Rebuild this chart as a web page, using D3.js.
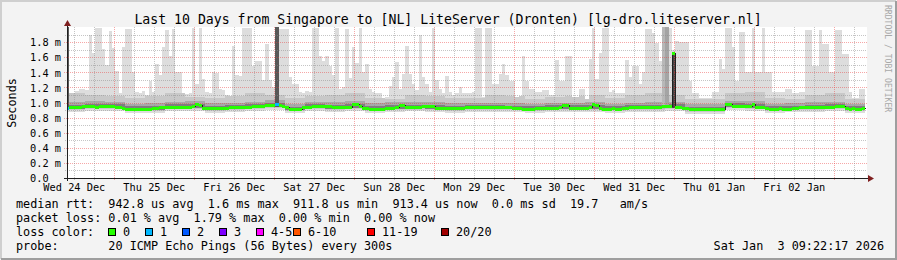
<!DOCTYPE html>
<html>
<head>
<meta charset="utf-8">
<script src="https://cdn.jsdelivr.net/npm/d3@7"></script>
<style>
html, body { margin: 0; padding: 0; background: #f3f3f3; }
svg { display: block; font-family: "DejaVu Sans Mono", monospace; }
</style>
</head>
<body>
<div id="chart"></div>
<script>
// hourly median rtt (ms), one value per hour from Dec 24 09:48
var medianMs = [
  0.931,0.935,0.938,0.942,0.944,0.952,0.955,0.953,0.950,0.936,
  0.955,0.956,0.958,0.955,0.953,0.945,0.934,0.925,0.918,0.917,
  0.916,0.918,0.920,0.918,0.917,0.919,0.921,0.930,0.942,0.944,
  0.945,0.944,0.946,0.944,0.943,0.945,0.947,0.946,0.950,0.976,
  0.968,0.925,0.923,0.922,0.924,0.923,0.921,0.925,0.930,0.935,
  0.942,0.944,0.945,0.946,0.944,0.947,0.950,0.948,0.952,0.960,
  0.966,0.970,0.968,0.975,0.962,0.958,0.936,0.915,0.910,0.910,
  0.912,0.936,0.937,0.936,0.953,0.952,0.954,0.953,0.955,0.952,
  0.938,0.936,0.935,0.937,0.936,0.940,0.975,0.974,0.960,0.928,
  0.925,0.918,0.915,0.914,0.916,0.920,0.925,0.927,0.928,0.935,
  0.967,0.962,0.940,0.941,0.939,0.940,0.945,0.953,0.952,0.954,
  0.953,0.930,0.927,0.926,0.928,0.927,0.925,0.927,0.929,0.930,
  0.936,0.937,0.935,0.936,0.938,0.936,0.935,0.937,0.936,0.934,
  0.936,0.938,0.935,0.936,0.930,0.928,0.925,0.912,0.910,0.912,
  0.913,0.925,0.927,0.928,0.926,0.927,0.928,0.930,0.940,0.965,
  0.963,0.932,0.930,0.929,0.931,0.930,0.932,0.935,0.975,0.972,
  0.922,0.920,0.918,0.920,0.921,0.919,0.920,0.922,0.925,0.938,
  0.940,0.941,0.939,0.940,0.942,0.940,0.941,0.943,0.945,0.950,
  0.955,0.953,1.650,0.942,0.938,0.925,0.922,0.912,0.910,0.911,
  0.910,0.909,0.910,0.911,0.910,0.912,0.913,0.915,0.980,0.978,
  0.953,0.952,0.954,0.953,0.951,0.955,0.980,0.945,0.940,0.938,
  0.922,0.920,0.919,0.920,0.921,0.920,0.918,0.920,0.922,0.925,
  0.938,0.940,0.941,0.940,0.942,0.940,0.941,0.942,0.940,0.941,
  0.943,0.948,0.953,0.952,0.925,0.920,0.921,0.919,0.920,0.922
];

// hourly max rtt (ms) - top of the light smoke
var maxMs = [
  2.00,1.12,1.13,1.15,1.18,1.18,1.17,1.89,1.65,1.99,1.99,1.71,1.50,1.95,1.72,1.42,1.12,1.73,1.98,1.98,
  1.40,1.14,1.13,1.15,1.10,1.29,1.14,1.51,1.36,1.74,1.96,1.62,1.97,1.40,1.40,1.12,1.11,1.13,1.99,1.25,
  1.99,1.31,1.14,1.13,1.40,1.39,1.18,1.17,1.10,1.09,1.75,1.36,1.35,1.99,1.99,1.99,1.49,1.55,1.55,1.30,
  1.77,1.30,1.20,2.00,1.98,1.98,1.98,1.34,1.25,1.24,1.14,1.13,1.15,1.14,1.99,1.99,1.62,1.55,1.62,1.49,
  1.36,1.99,1.18,1.20,1.97,1.33,1.73,1.52,1.99,1.40,1.51,1.18,1.14,1.12,1.12,1.06,1.07,1.22,1.34,1.53,
  1.18,1.38,1.75,1.38,1.25,1.16,1.89,1.34,1.24,1.14,1.99,1.30,1.18,1.12,1.35,1.14,1.10,1.12,1.20,1.12,
  1.12,1.12,1.14,1.99,1.99,1.07,1.99,1.99,1.25,1.25,1.38,1.51,1.36,1.29,1.29,1.07,1.08,1.62,1.29,1.18,
  1.18,1.14,1.14,1.16,1.16,1.10,1.10,1.56,1.29,1.29,1.62,1.62,1.07,1.07,1.18,1.18,1.05,1.58,1.99,1.31,
  1.65,1.99,1.99,1.14,1.16,1.12,1.12,1.12,1.56,1.34,1.49,1.49,1.25,1.40,1.97,1.97,1.92,1.79,1.55,1.99,
  1.99,1.99,1.70,1.82,1.80,1.80,1.80,1.29,1.12,1.12,1.06,1.06,1.06,1.06,1.14,1.14,1.58,1.45,1.99,1.99,
  1.73,1.29,1.94,1.94,1.40,1.40,1.99,1.40,1.40,1.99,1.40,1.40,1.14,1.14,1.14,1.14,1.18,1.18,1.12,1.12,
  1.14,1.14,1.96,1.96,1.49,1.49,1.96,1.78,1.78,1.40,1.40,1.96,1.96,1.64,1.64,1.14,1.06,1.06,1.18,1.18
];

// smoke percentiles (ms), one value per 6 hours
var p90Ms = [1.12,1.10,1.08,1.06,1.09,1.12,1.07,1.06,1.08,1.13, 1.10,1.06,1.08,1.10,1.12,1.06,1.05,1.10,1.08,1.06,
             1.06,1.10,1.08,1.05,1.07,1.09,1.10,1.06,1.10,1.12, 1.10,1.05,1.04,1.12,1.14,1.06,1.05,1.10,1.12,1.05];
var p80Ms = [1.005,1.02,1.01,0.985,0.99,1.01,1.015,0.99,1.0,1.01, 1.03,0.98,1.013,1.005,1.015,0.99,1.005,1.007,1.005,0.992,
             1.0,1.0,0.995,0.983,0.997,1.0,1.005,0.985,1.0,1.005, 1.01,0.977,0.975,1.025,1.015,0.985,0.995,1.005,1.01,0.985];
var p65Ms = [0.97,0.985,0.975,0.95,0.955,0.975,0.98,0.955,0.965,0.975, 0.995,0.945,0.978,0.97,0.98,0.955,0.97,0.972,0.97,0.957,
             0.966,0.966,0.96,0.948,0.962,0.965,0.97,0.95,0.965,0.97, 0.975,0.942,0.94,0.99,0.98,0.95,0.96,0.97,0.975,0.95];
var p35Ms = [0.92,0.93,0.925,0.90,0.905,0.925,0.93,0.905,0.915,0.925, 0.945,0.898,0.928,0.92,0.93,0.905,0.92,0.922,0.92,0.908,
             0.916,0.916,0.91,0.90,0.912,0.915,0.92,0.90,0.915,0.92, 0.925,0.895,0.893,0.94,0.93,0.90,0.91,0.92,0.925,0.90];
var p20Ms = [0.905,0.915,0.91,0.885,0.89,0.91,0.915,0.89,0.90,0.91, 0.93,0.882,0.913,0.905,0.915,0.89,0.905,0.907,0.905,0.893,
             0.90,0.90,0.895,0.884,0.897,0.90,0.905,0.886,0.90,0.905, 0.91,0.88,0.878,0.925,0.915,0.886,0.895,0.905,0.91,0.886];
var minMs = [0.88,0.892,0.885,0.86,0.865,0.884,0.89,0.863,0.875,0.884, 0.905,0.855,0.888,0.88,0.89,0.865,0.88,0.882,0.88,0.867,
             0.876,0.876,0.87,0.858,0.872,0.875,0.88,0.86,0.875,0.88, 0.885,0.852,0.85,0.90,0.89,0.86,0.87,0.88,0.885,0.86];

// hours where most of the pings were slow (dense smoke up to a top value)
var heavyHours = [0, 63, 179, 180, 182];
var heavyTops  = [2.0, 2.0, 2.0, 2.0, 1.65];
var heavyDepth = [7, 7, 2, 3, 8];

// hours with lost pings (count out of 20)
var lossHours  = [0, 63];
var lossCounts = [1, 1];

var yTickValues = [0, 0.2, 0.4, 0.6, 0.8, 1.0, 1.2, 1.4, 1.6, 1.8];
var yTickLabels = ["0.0", "0.2 m", "0.4 m", "0.6 m", "0.8 m", "1.0 m", "1.2 m", "1.4 m", "1.6 m", "1.8 m"];

var lossLabels = ["0", "1", "2", "3", "4-5", "6-10", "11-19", "20/20"];
var lossLimits = [0, 1, 2, 3, 5, 10, 19, 20];
var lossColors = ["#26ff00", "#00b8ff", "#0059ff", "#7e00ff", "#ff00ff", "#ff5500", "#ff0000", "#a10000"];

var titleText = "Last 10 Days from Singapore to [NL] LiteServer (Dronten) [lg-dro.liteserver.nl]";
var statLines = [
  "median rtt:  942.8 us avg  1.6 ms max  911.8 us min  913.4 us now  0.0 ms sd  19.7   am/s",
  "packet loss: 0.01 % avg  1.79 % max  0.00 % min  0.00 % now",
  "loss color:",
  "probe:       20 ICMP Echo Pings (56 Bytes) every 300s"
];
var stampText = "Sat Jan  3 09:22:17 2026";

// layout
var W = 897, H = 260;
var m = {left: 67, right: 867, top: 27, bottom: 178};
var HOUR = 3600e3;
var T0 = Date.UTC(2025, 11, 24, 9, 48);
var T1 = T0 + medianMs.length * HOUR;

var x = d3.scaleUtc().domain([T0, T1]).range([m.left, m.right]);
var y = d3.scaleLinear().domain([0, 2.0]).range([m.bottom, m.top]);

var svg = d3.select("#chart").append("svg")
            .attr("width", W).attr("height", H);

// background + 3d frame
svg.append("rect").attr("width", W).attr("height", H).attr("fill", "#f3f3f3");
svg.append("path").attr("d", "M1,259 V1 H896").attr("fill", "none")
   .attr("stroke", "#cfcfcf").attr("stroke-width", 2);
svg.append("path").attr("d", "M1,259 H896 V1").attr("fill", "none")
   .attr("stroke", "#9e9e9e").attr("stroke-width", 2);

svg.append("rect").attr("x", m.left).attr("y", m.top)
   .attr("width", m.right - m.left).attr("height", m.bottom - m.top)
   .attr("fill", "#ffffff");

svg.append("clipPath").attr("id", "plotclip").append("rect")
   .attr("x", m.left).attr("y", m.top - 1)
   .attr("width", m.right - m.left).attr("height", m.bottom - m.top + 1);

var plot = svg.append("g").attr("clip-path", "url(#plotclip)")
              .attr("shape-rendering", "crispEdges");

var hours = d3.range(medianMs.length);
function blk(arr, k) { return arr[Math.floor(k / 6)]; }
function xl(k) { return Math.round(x(T0 + (k - 0.5) * HOUR)); }
function xr(k) { return Math.round(x(T0 + (k + 0.5) * HOUR)); }

// stepped points, two per hour, snapped to pixels
function stepPoints(lo, hi) {
  var pts = [];
  hours.forEach(function(k) {
    pts.push({x: xl(k), lo: lo(k), hi: hi(k)});
    pts.push({x: xr(k), lo: lo(k), hi: hi(k)});
  });
  return pts;
}

var area = d3.area().x(d => d.x)
             .y0(d => Math.round(y(d.lo))).y1(d => Math.round(y(d.hi)));

var layers = [
  {lo: k => blk(minMs, k), hi: k => maxMs[k], color: "#dddddd"},
  {lo: k => blk(p20Ms, k), hi: k => Math.min(blk(p90Ms, k), maxMs[k]), color: "#c8c8c8"},
  {lo: k => blk(p35Ms, k), hi: k => blk(p80Ms, k), color: "#a8a8a8"},
  {lo: k => blk(p35Ms, k), hi: k => blk(p65Ms, k), color: "#7e7e7e"}
];

layers.forEach(function(l) {
  plot.append("path").attr("d", area(stepPoints(l.lo, l.hi))).attr("fill", l.color);
});

// dense smoke columns
plot.selectAll("rect.heavy")
    .data(heavyHours)
    .enter().append("rect")
    .attr("class", "heavy")
    .attr("x", k => xl(k))
    .attr("width", k => xr(k) - xl(k))
    .attr("y", (k, i) => Math.round(y(heavyTops[i])))
    .attr("height", (k, i) => Math.round(y(blk(p35Ms, k))) - Math.round(y(heavyTops[i])))
    .attr("fill", function(k, i) {
      var g = Math.round(221 - heavyDepth[i] * 19);
      return d3.rgb(g, g, g);
    });

// grid
var gridMinor = "rgba(140,140,140,0.5)";
var gridMajor = "rgba(235,60,60,0.45)";
var g = svg.append("g").attr("shape-rendering", "crispEdges");

var yGrid = d3.range(1, 20).map(i => i / 10);
g.selectAll("line.hg").data(yGrid).enter().append("line")
 .attr("x1", d => (Math.round(d * 10) % 2 === 0) ? m.left - 3 : m.left - 2)
 .attr("x2", m.right)
 .attr("y1", d => Math.round(y(d)) + 0.5).attr("y2", d => Math.round(y(d)) + 0.5)
 .attr("stroke", d => (Math.round(d * 10) % 2 === 0) ? gridMajor : gridMinor)
 .attr("stroke-dasharray", "1,1");

var sixHours = d3.utcHour.every(6).range(T0, T1);
g.selectAll("line.vg").data(sixHours).enter().append("line")
 .attr("x1", d => Math.round(x(d)) + 0.5).attr("x2", d => Math.round(x(d)) + 0.5)
 .attr("y1", m.top)
 .attr("y2", d => d.getUTCHours() === 0 ? m.bottom + 3 : m.bottom + 2)
 .attr("stroke", d => d.getUTCHours() === 0 ? gridMajor : gridMinor)
 .attr("stroke-dasharray", "1,1");

// median line and loss colour band
var med = svg.append("g").attr("clip-path", "url(#plotclip)")
             .attr("shape-rendering", "crispEdges");
var medPts = stepPoints(k => medianMs[k], k => medianMs[k]);
med.append("path")
   .attr("d", d3.line().x(d => d.x + 0.5).y(d => Math.round(y(d.hi)) + 0.5)(medPts))
   .attr("fill", "none").attr("stroke", "#202020").attr("stroke-width", 1);

function lossColor(k) {
  var i = lossHours.indexOf(k);
  var c = i < 0 ? 0 : lossCounts[i];
  for (var j = 0; j < lossLimits.length; j++) {
    if (c <= lossLimits[j]) return lossColors[j];
  }
  return lossColors[lossColors.length - 1];
}

med.selectAll("rect").data(hours).enter().append("rect")
   .attr("x", k => xl(k))
   .attr("width", k => xr(k) - xl(k))
   .attr("y", k => Math.round(y(medianMs[k])) - 1)
   .attr("height", 3)
   .attr("fill", k => lossColor(k));

// axes
svg.append("line").attr("x1", m.left - 3).attr("x2", m.right + 2)
   .attr("y1", m.bottom + 0.5).attr("y2", m.bottom + 0.5)
   .attr("stroke", "#1f1f1f");
svg.append("line").attr("x1", m.left + 0.5).attr("x2", m.left + 0.5)
   .attr("y1", m.bottom + 3).attr("y2", m.top - 2)
   .attr("stroke", "#1f1f1f");
svg.append("path").attr("d", "M868,175 L874,178.5 L868,182 Z").attr("fill", "#7f1f1f");
svg.append("path").attr("d", "M64,26 L67.5,20 L71,26 Z").attr("fill", "#7f1f1f");

// y tick labels
svg.append("g").selectAll("text").data(yTickValues).enter().append("text")
   .attr("x", 30)
   .attr("y", d => y(d) + 0.5)
   .attr("dy", "0.36em")
   .attr("font-size", "10.3px")
   .attr("fill", "#000")
   .text((d, i) => yTickLabels[i]);

// x tick labels at noon of each day
var fmt = d3.utcFormat("%a %d %b");
var noons = d3.utcDay.range(d3.utcDay.floor(T0), T1)
              .map(d => new Date(+d + 12 * HOUR))
              .filter(d => d >= T0 && d <= T1);
svg.append("g").selectAll("text").data(noons).enter().append("text")
   .attr("x", d => x(d))
   .attr("y", 191)
   .attr("text-anchor", "middle")
   .attr("font-size", "10.3px")
   .attr("fill", "#000")
   .text(d => fmt(d));

// title and y label
svg.append("text").attr("x", 448).attr("y", 23.5)
   .attr("text-anchor", "middle").attr("font-size", "13.2px")
   .attr("fill", "#000").text(titleText);

svg.append("text")
   .attr("transform", "translate(15.5,103) rotate(-90)")
   .attr("text-anchor", "middle").attr("font-size", "11.8px")
   .attr("fill", "#000").text("Seconds");

svg.append("text")
   .attr("transform", "translate(885,5) rotate(90)")
   .attr("font-size", "8.1px").attr("fill", "#a8a8a8")
   .text("RRDTOOL / TOBI OETIKER");

// legend lines
var charW = 7.1;
svg.append("g").selectAll("text").data(statLines).enter().append("text")
   .attr("x", 16)
   .attr("y", (d, i) => 207.5 + i * 14)
   .attr("font-size", "11.8px")
   .attr("xml:space", "preserve")
   .style("white-space", "pre")
   .attr("fill", "#000")
   .text(d => d);

// loss colour swatches, placed on 37px tab stops
var leg = svg.append("g");
var tab0 = 108, tab = 37, pos = tab0;
lossLabels.forEach(function(lab, i) {
  leg.append("rect").attr("x", pos + 0.5).attr("y", 228.5)
     .attr("width", 7).attr("height", 7)
     .attr("fill", lossColors[i]).attr("stroke", "#000").attr("stroke-width", 1);
  leg.append("text").attr("x", pos + 15).attr("y", 235.5)
     .attr("font-size", "11.8px").attr("fill", "#000").text(lab);
  var end = pos + 15 + lab.length * charW;
  pos = tab0 + Math.ceil((end - tab0) / tab) * tab;
});

svg.append("text").attr("x", 884).attr("y", 249.5)
   .attr("text-anchor", "end").attr("font-size", "11.8px")
   .attr("xml:space", "preserve").style("white-space", "pre")
   .attr("fill", "#000").text(stampText);
</script>
</body>
</html>
